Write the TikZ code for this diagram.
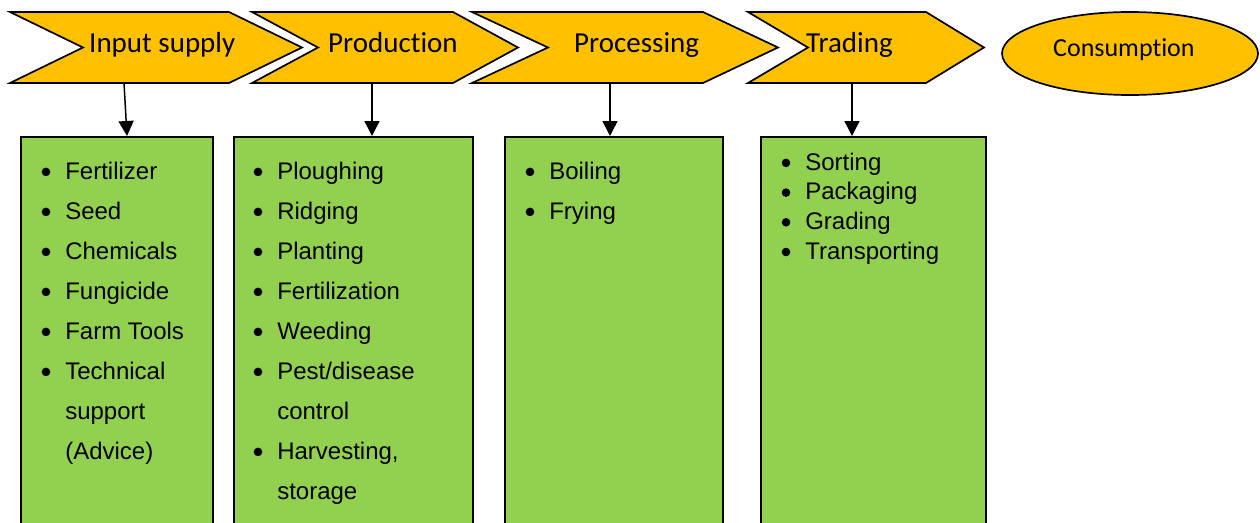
\documentclass[tikz,border=0pt]{standalone}
\usepackage{fontspec}
\setmainfont{Liberation Sans}
\newfontfamily\labelfont[Ligatures=NoCommon]{Carlito}
\usetikzlibrary{arrows.meta,shapes.geometric}
\definecolor{gold}{HTML}{FFC000}
\definecolor{leaf}{HTML}{92D050}
% round list marker
\newcommand\itemdot{\raisebox{2.8pt}{\tikz\fill[black] (0,0) circle[radius=4.3pt];}}

\begin{document}
\begin{tikzpicture}[x=1pt,y=-1pt,
  stage/.style={fill=gold,draw=black,line width=1.7pt,line join=miter},
  stagelabel/.style={font=\labelfont\fontsize{29}{34}\selectfont,anchor=base west,inner sep=0pt},
  box/.style={fill=leaf,draw=black,line width=1.8pt,anchor=north west,inner sep=0pt,minimum height=400pt},
  items/.style={anchor=base west,inner sep=0pt,align=left},
  link/.style={line width=1.5pt,-{Triangle[width=15pt,length=15pt]}}]

\useasboundingbox[fill=white] (0,0) rectangle (1260,522);

% value-chain stages
\draw[stage] (10,12) -- (229,12) -- (302,47.5) -- (229,83) -- (10,83) -- (83,47.5) -- cycle;
\draw[stage] (252,12) -- (453,12) -- (518,47.5) -- (453,83) -- (252,83) -- (318,47.5) -- cycle;
\draw[stage] (472,12) -- (703,12) -- (778,47.5) -- (703,83) -- (472,83) -- (548,47.5) -- cycle;
\draw[stage] (748,12) -- (926,12) -- (984,47.5) -- (926,83) -- (748,83) -- (808,47.5) -- cycle;
\node[draw=black,fill=gold,line width=1.7pt,ellipse,minimum width=256pt,minimum height=83pt,inner sep=0pt] (cons) at (1130,53.5) {};

\node[stagelabel] (l1) at (89,52) {Input supply};
\node[stagelabel] (l2) at (328,52) {Production};
\node[stagelabel] (l3) at (574,52) {Processing};
\node[stagelabel] (l4) at (806,52) {Trading};
\node[stagelabel,font=\labelfont\fontsize{26}{30}\selectfont] (l5) at (1053,56) {Consumption};

% activity boxes
\node[box,minimum width=192pt] (b1) at (20,136) {};
\node[box,minimum width=239pt] (b2) at (233,136) {};
\node[box,minimum width=218pt] (b3) at (504,136) {};
\node[box,minimum width=225pt] (b4) at (760,136) {};

\node[items,font=\fontsize{24}{40}\selectfont] (t1) at (41.5,179) {%
  \begin{tabular}[t]{@{}l@{\hspace{15pt}}l@{}}
  \itemdot & Fertilizer\\
  \itemdot & Seed\\
  \itemdot & Chemicals\\
  \itemdot & Fungicide\\
  \itemdot & Farm Tools\\
  \itemdot & Technical\\
           & support\\
           & (Advice)
  \end{tabular}};
\node[items,font=\fontsize{24}{40}\selectfont] (t2) at (253.5,179) {%
  \begin{tabular}[t]{@{}l@{\hspace{15pt}}l@{}}
  \itemdot & Ploughing\\
  \itemdot & Ridging\\
  \itemdot & Planting\\
  \itemdot & Fertilization\\
  \itemdot & Weeding\\
  \itemdot & Pest/disease\\
           & control\\
  \itemdot & Harvesting,\\
           & storage
  \end{tabular}};
\node[items,font=\fontsize{24}{40}\selectfont] (t3) at (525.5,179) {%
  \begin{tabular}[t]{@{}l@{\hspace{15pt}}l@{}}
  \itemdot & Boiling\\
  \itemdot & Frying
  \end{tabular}};
\node[items,font=\fontsize{24}{29.7}\selectfont] (t4) at (781.5,170) {%
  \begin{tabular}[t]{@{}l@{\hspace{15pt}}l@{}}
  \itemdot & Sorting\\
  \itemdot & Packaging\\
  \itemdot & Grading\\
  \itemdot & Transporting
  \end{tabular}};

% links from stages to their activities
\coordinate (s1) at (124,83);  \coordinate (e1) at (127,136);
\coordinate (s2) at (372,83);  \coordinate (e2) at (372,136);
\coordinate (s3) at (610,83);  \coordinate (e3) at (610,136);
\coordinate (s4) at (852,83);  \coordinate (e4) at (852,136);
\draw[link] (s1) -- (e1);
\draw[link] (s2) -- (e2);
\draw[link] (s3) -- (e3);
\draw[link] (s4) -- (e4);
\end{tikzpicture}
\end{document}
